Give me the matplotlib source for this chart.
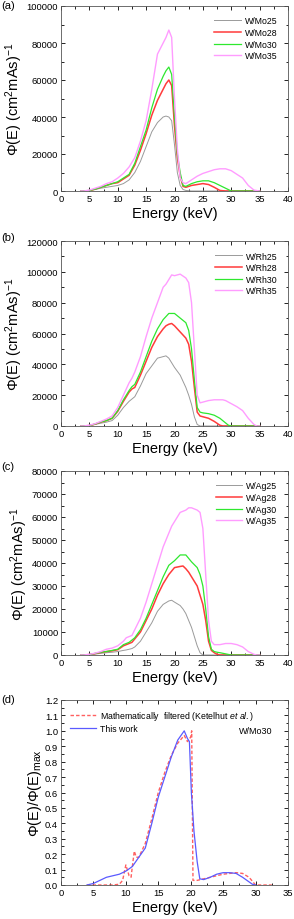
import matplotlib
matplotlib.use('Agg')
import matplotlib.pyplot as plt
from matplotlib.ticker import MultipleLocator

plt.rcParams['font.family'] = ['Liberation Sans', 'DejaVu Sans']
plt.rcParams['mathtext.fontset'] = 'custom'
plt.rcParams['mathtext.rm'] = 'Liberation Sans'
plt.rcParams['mathtext.it'] = 'Liberation Sans:italic'

# ---- (a) W/Mo spectra ----
mo_e = [3.5, 4, 5, 6, 7, 8, 9, 10, 11, 12, 13, 14, 15, 16, 17, 18, 18.5, 19, 19.5, 20, 20.5, 21, 21.5, 22,
        23, 24, 25, 26, 27, 28, 29, 30, 31, 32, 33, 34, 35]
mo25 = [0, 0, 200, 800, 1500, 2000, 2500, 3000, 4000, 6000, 10000, 16000, 24000, 32000, 37000, 40000, 40500, 40000, 38000, 25000, 10000, 3000, 800, 300,
        0, 0, 0, 0, 0, 0, 0, 0, 0, 0, 0, 0, 0]
mo28 = [0, 0, 200, 1000, 2000, 3000, 4000, 4500, 6500, 8500, 14000, 22000, 31000, 41000, 49000, 55000, 58000, 60000, 57000, 35000, 18000, 8000, 2500, 2000,
        3000, 3500, 4000, 3500, 2000, 300, 0, 0, 0, 0, 0, 0, 0]
mo30 = [0, 0, 300, 1000, 2000, 3000, 4000, 5000, 7000, 9000, 15000, 24000, 33000, 45000, 55000, 62000, 65000, 67000, 63000, 40000, 20000, 10000, 3000, 2500,
        4000, 5000, 5500, 5500, 4500, 3000, 1500, 0, 0, 0, 0, 0, 0]
mo35 = [0, 0, 500, 1500, 2500, 4000, 5000, 7000, 9500, 13000, 18000, 27000, 38000, 55000, 74000, 80000, 83000, 87000, 83000, 50000, 23000, 7000, 4500, 4000,
        6000, 8000, 9500, 10500, 11500, 12000, 12000, 11000, 9000, 7000, 3000, 500, 0]

# ---- (b) W/Rh spectra ----
rh_e = [3.5, 4, 5, 6, 7, 8, 9, 10, 11, 12, 12.5, 13, 14, 15, 16, 17, 18, 18.5, 19, 19.5, 20, 21, 22, 22.5, 23, 23.5, 24, 24.5,
        25, 26, 27, 28, 28.5, 29, 29.5, 30, 31, 32, 33, 34, 34.5, 35]
rh25 = [0, 0, 200, 1000, 1800, 2500, 3500, 7000, 12000, 16000, 17500, 19000, 26000, 34000, 39000, 44000, 45000, 45500, 44000, 41000, 38000, 33000, 25000, 20000, 14000, 6000, 1000, 0,
        0, 0, 0, 0, 0, 0, 0, 0, 0, 0, 0, 0, 0, 0]
rh28 = [0, 0, 300, 1200, 2500, 3500, 5000, 9500, 16000, 22000, 24000, 25000, 33000, 42000, 51000, 58000, 63000, 65000, 66000, 66500, 65000, 61000, 57000, 53000, 42000, 25000, 9000, 6500,
        6000, 5000, 3000, 500, 0, 0, 0, 0, 0, 0, 0, 0, 0, 0]
rh30 = [0, 0, 300, 1300, 2600, 3500, 5000, 10000, 17000, 23000, 25500, 27000, 35000, 45000, 55000, 63000, 69000, 71000, 73000, 73000, 73000, 70000, 67000, 62000, 50000, 30000, 12000, 9000,
        8500, 8000, 7000, 5000, 3500, 2000, 500, 0, 0, 0, 0, 0, 0, 0]
rh35 = [0, 0, 500, 1500, 3000, 4500, 6500, 12000, 20000, 28000, 31000, 35000, 45000, 58000, 70000, 80000, 90000, 92000, 95000, 98000, 97500, 98500, 96000, 93000, 80000, 50000, 20000, 15000,
        15500, 16500, 17000, 17000, 17000, 16500, 15500, 14500, 12500, 10000, 5000, 1000, 0, 0]

# ---- (c) W/Ag spectra ----
ag_e = [3.5, 4, 5, 6, 7, 8, 9, 10, 11, 11.5, 12, 12.5, 13, 14, 15, 16, 17, 18, 19, 19.5, 20, 21, 21.5, 22, 22.5, 23, 24, 24.5,
        25, 25.5, 26, 26.5, 27, 27.5, 28, 29, 30, 31, 32, 33, 34, 34.5, 35]
ag25 = [0, 0, 100, 400, 700, 1000, 1200, 1500, 2000, 2200, 2500, 2800, 3500, 6000, 10000, 14000, 19000, 22000, 23500, 23800, 23000, 21500, 20000, 18000, 15000, 12000, 4000, 1000,
        0, 0, 0, 0, 0, 0, 0, 0, 0, 0, 0, 0, 0, 0, 0]
ag28 = [0, 0, 200, 600, 1100, 1500, 1800, 2300, 4000, 4500, 5000, 5500, 7000, 10000, 15000, 20000, 26000, 31000, 35000, 36500, 38000, 38500, 38700, 37500, 36000, 34000, 30000, 26000,
        22000, 15000, 6000, 2000, 1000, 300, 0, 0, 0, 0, 0, 0, 0, 0, 0]
ag30 = [0, 0, 200, 700, 1200, 1500, 2000, 2500, 4500, 5000, 5500, 6500, 7500, 11000, 16000, 22000, 28000, 34000, 39000, 40000, 41000, 43500, 43500, 43500, 42000, 40500, 38000, 35000,
        30000, 20000, 8000, 2500, 1500, 1200, 1000, 500, 0, 0, 0, 0, 0, 0, 0]
ag35 = [0, 0, 300, 800, 1500, 2500, 3000, 4000, 6000, 7500, 8000, 8500, 11000, 16000, 23000, 31000, 39000, 47000, 53000, 56000, 58000, 62000, 62500, 63000, 64000, 64000, 63000, 62000,
        55000, 35000, 15000, 6000, 4500, 4500, 4500, 5000, 5000, 4500, 3500, 1500, 300, 0, 0]

# ---- (d) normalised W/Mo30 ----
d_blue_e = [4, 5, 6, 7, 8, 9, 10, 11, 12, 13, 14, 15, 16, 17, 18, 19, 19.5, 19.8, 20.1, 20.5, 21, 21.4, 22, 23, 24, 25, 26, 27, 28, 29, 29.5, 30]
d_blue = [0, 0.01, 0.03, 0.05, 0.06, 0.07, 0.09, 0.12, 0.18, 0.24, 0.40, 0.57, 0.70, 0.83, 0.94, 1.0, 0.95, 0.93, 0.6, 0.35, 0.15, 0.04, 0.035,
          0.05, 0.07, 0.08, 0.08, 0.075, 0.05, 0.02, 0.005, 0]
d_red_e = [4, 8, 9, 9.5, 10, 10.5, 10.8, 11, 11.3, 11.6, 12, 13, 14, 15, 16, 17, 18, 19, 19.5, 20.0, 20.15, 20.35, 21, 22, 23, 24, 25,
           26, 27, 28, 29, 29.8, 30, 32.5]
d_red = [0, 0, 0.005, 0.03, 0.13, 0.06, 0.05, 0.12, 0.22, 0.18, 0.18, 0.27, 0.43, 0.60, 0.73, 0.84, 0.92, 0.97, 0.93, 0.96, 1.0, 0.03,
         0.03, 0.04, 0.05, 0.06, 0.07, 0.075, 0.08, 0.075, 0.05, 0.01, 0, 0]

c_gray = '#9a9a9a'
c_red = '#ff3b3b'
c_green = '#2ee82e'
c_pink = '#ff9cff'

fig = plt.figure(figsize=(2.94, 9.2), dpi=100)
W, H = 294.0, 920.0
boxes = [(7, 192), (242, 427), (472, 656), (701, 886)]
axes = []
for top, bot in boxes:
    ax = fig.add_axes([61 / W, 1 - bot / H, 227 / W, (bot - top) / H])
    axes.append(ax)


def style(ax, xmax, ymax, ymaj, ymin):
    ax.set_xlim(0, xmax)
    ax.set_ylim(0, ymax)
    ax.xaxis.set_major_locator(MultipleLocator(5))
    ax.xaxis.set_minor_locator(MultipleLocator(2.5))
    ax.yaxis.set_major_locator(MultipleLocator(ymaj))
    ax.yaxis.set_minor_locator(MultipleLocator(ymin))
    ax.tick_params(which='both', direction='in', top=True, right=True, labelsize=6.8, width=0.6, pad=2)
    ax.tick_params(which='major', length=3)
    ax.tick_params(which='minor', length=1.8)
    for s in ax.spines.values():
        s.set_linewidth(0.6)
        s.set_color('#555555')
    ax.set_xlabel('Energy (keV)', fontsize=10.5, labelpad=2)


def spectra(ax, e, ys, names):
    cols = [c_gray, c_red, c_green, c_pink]
    lws = [0.7, 1.1, 0.9, 1.0]
    for y, n, c, lw in zip(ys, names, cols, lws):
        ax.plot(e, y, color=c, lw=lw, label=n)
    ax.legend(loc='upper right', fontsize=6.3, frameon=False, handlelength=3.0,
              labelspacing=0.3, borderaxespad=0.8, handletextpad=0.5)
    ax.set_ylabel('Φ(E) (cm$^2$mAs)$^{-1}$', fontsize=10.5, labelpad=1)


spectra(axes[0], mo_e, [mo25, mo28, mo30, mo35], ['W/Mo25', 'W/Mo28', 'W/Mo30', 'W/Mo35'])
style(axes[0], 40, 100000, 20000, 10000)
spectra(axes[1], rh_e, [rh25, rh28, rh30, rh35], ['W/Rh25', 'W/Rh28', 'W/Rh30', 'W/Rh35'])
style(axes[1], 40, 120000, 20000, 10000)
spectra(axes[2], ag_e, [ag25, ag28, ag30, ag35], ['W/Ag25', 'W/Ag28', 'W/Ag30', 'W/Ag35'])
style(axes[2], 40, 80000, 10000, 5000)

ax = axes[3]
ax.plot(d_red_e, d_red, color='#ff6060', lw=1.0, ls=(0, (2.5, 1.5)),
        label='Mathematically  filtered (Ketelhut $\\mathit{et\\ al.}$)')
ax.plot(d_blue_e, d_blue, color='#5a5aff', lw=0.9, label='This work')
ax.legend(loc='upper left', fontsize=6.3, frameon=False, handlelength=3.0,
          labelspacing=0.3, borderaxespad=0.6, handletextpad=0.5)
ax.text(0.93, 0.82, 'W/Mo30', transform=ax.transAxes, fontsize=6.5, ha='right')
style(ax, 35, 1.2, 0.1, 0.05)
ax.yaxis.set_major_formatter(matplotlib.ticker.FormatStrFormatter('%.1f'))
ax.set_ylabel('Φ(E)/Φ(E)$_{\\mathrm{max}}$', fontsize=10.5, labelpad=1)

for lab, y in zip(['(a)', '(b)', '(c)', '(d)'], [6, 238, 467, 700]):
    fig.text(1 / W, 1 - y / H, lab, fontsize=8, va='center', ha='left')

fig.savefig('out.png', dpi=100)
